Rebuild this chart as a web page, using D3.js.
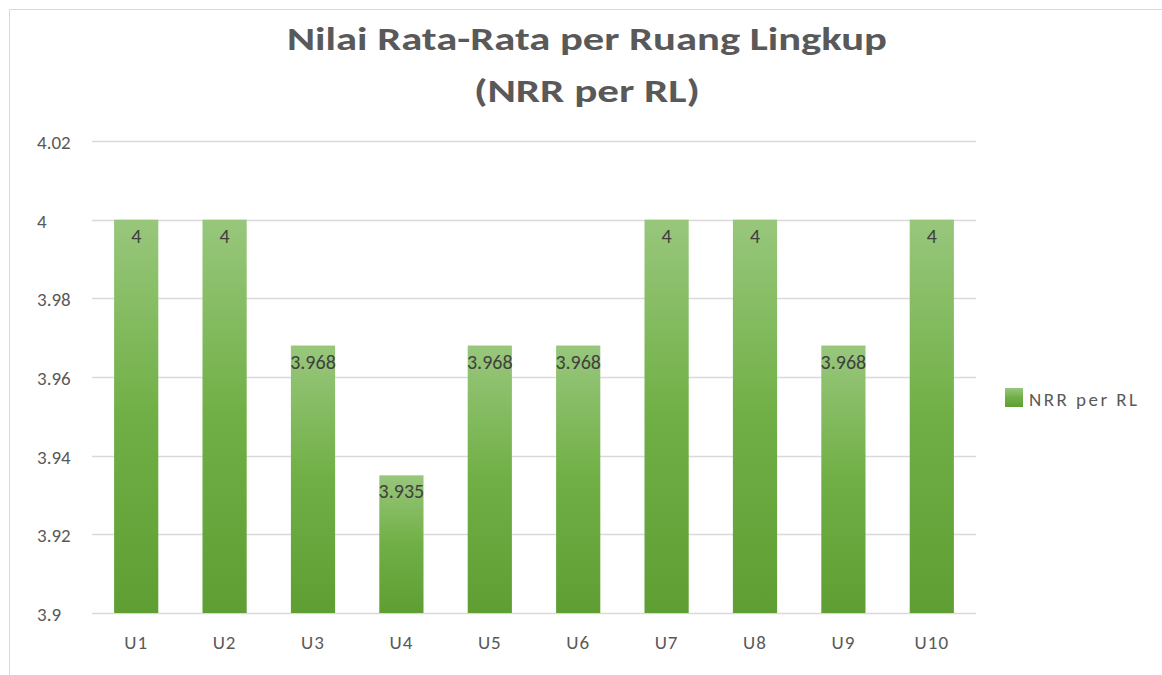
<!DOCTYPE html>
<html>
<head>
<meta charset="utf-8">
<script src="https://cdn.jsdelivr.net/npm/d3@7"></script>
<style>
  body { margin: 0; background: #fff; }
  svg { display: block; font-family: Carlito, Calibri, Lato, "Open Sans", sans-serif; }
</style>
</head>
<body>
<svg id="chart" width="1162" height="675"></svg>
<script>
var categories = ["U1", "U2", "U3", "U4", "U5", "U6", "U7", "U8", "U9", "U10"];
var values = [4, 4, 3.968, 3.935, 3.968, 3.968, 4, 4, 3.968, 4];
var yTicks = [3.9, 3.92, 3.94, 3.96, 3.98, 4, 4.02];
var seriesName = "NRR per RL";

var svg = d3.select("#chart");
var plotLeft = 92, plotRight = 976, plotTop = 141, plotBottom = 613;

// chart frame (only top and left edges show in the reference)
svg.append("line").attr("x1", 9.5).attr("x2", 9.5).attr("y1", 9.5).attr("y2", 675)
    .attr("stroke", "#d9d9d9");
svg.append("line").attr("x1", 9.5).attr("x2", 1162).attr("y1", 9.5).attr("y2", 9.5)
    .attr("stroke", "#d9d9d9");

var defs = svg.append("defs");
var grad = defs.append("linearGradient").attr("id", "barGrad")
    .attr("x1", 0).attr("y1", 0).attr("x2", 0).attr("y2", 1);
grad.append("stop").attr("offset", "0%").attr("stop-color", "#98c77c");
grad.append("stop").attr("offset", "50%").attr("stop-color", "#70af45");
grad.append("stop").attr("offset", "100%").attr("stop-color", "#5e9e33");

var x = d3.scaleBand().domain(categories).range([plotLeft, plotRight]).paddingInner(0.5).paddingOuter(0.25);
var y = d3.scaleLinear().domain([3.9, 4.02]).range([plotBottom, plotTop]);

svg.append("g")
    .selectAll("line")
    .data(yTicks)
    .join("line")
    .attr("x1", plotLeft).attr("x2", plotRight)
    .attr("y1", d => Math.round(y(d)) + 0.5).attr("y2", d => Math.round(y(d)) + 0.5)
    .attr("stroke", "#d9d9d9").attr("stroke-width", 1.3);

svg.append("g")
    .selectAll("text")
    .data(yTicks)
    .join("text")
    .attr("x", 37).attr("y", d => y(d) + 8)
    .attr("font-size", 19).attr("fill", "#595959")
    .text(d => d3.format("")(d));

svg.append("g")
    .selectAll("rect")
    .data(values)
    .join("rect")
    .attr("x", (d, i) => x(categories[i]))
    .attr("width", x.bandwidth())
    .attr("y", d => y(d))
    .attr("height", d => plotBottom - y(d))
    .attr("fill", "url(#barGrad)");

svg.append("g")
    .selectAll("text")
    .data(values)
    .join("text")
    .attr("x", (d, i) => x(categories[i]) + x.bandwidth() / 2)
    .attr("y", d => y(d) + 23)
    .attr("text-anchor", "middle")
    .attr("font-size", 20).attr("fill", "#404040")
    .text(d => d);

svg.append("g")
    .selectAll("text")
    .data(categories)
    .join("text")
    .attr("x", d => x(d) + x.bandwidth() / 2)
    .attr("y", 649)
    .attr("text-anchor", "middle")
    .attr("font-size", 19).attr("letter-spacing", 1).attr("fill", "#595959")
    .text(d => d);

svg.append("text").attr("x", 587).attr("y", 50).attr("text-anchor", "middle")
    .attr("font-size", 32).attr("font-weight", "bold").attr("fill", "#595959")
    .attr("textLength", 600).attr("lengthAdjust", "spacingAndGlyphs")
    .text("Nilai Rata-Rata per Ruang Lingkup");
svg.append("text").attr("x", 587).attr("y", 102).attr("text-anchor", "middle")
    .attr("font-size", 32).attr("font-weight", "bold").attr("fill", "#595959")
    .attr("textLength", 226).attr("lengthAdjust", "spacingAndGlyphs")
    .text("(NRR per RL)");

var legend = svg.append("g").attr("transform", "translate(1005,388)");
legend.append("rect").attr("width", 18).attr("height", 19).attr("fill", "url(#barGrad)");
legend.append("text").attr("x", 24).attr("y", 18).attr("font-size", 19).attr("fill", "#595959")
    .attr("textLength", 108).attr("lengthAdjust", "spacing")
    .text(seriesName);
</script>
</body>
</html>
